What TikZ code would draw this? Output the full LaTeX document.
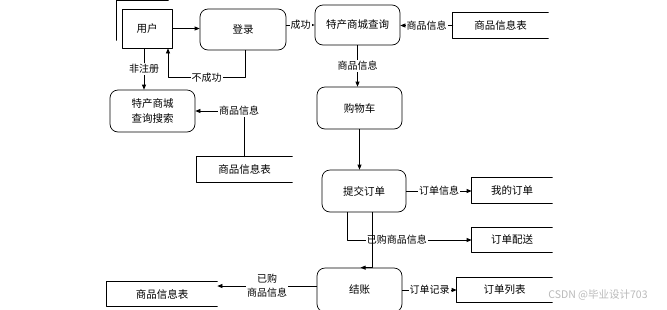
\documentclass[tikz,border=0pt]{standalone}
\usepackage{fontspec}
\setmainfont{Noto Sans CJK SC}
\usetikzlibrary{arrows.meta}
\usetikzlibrary{calc}

\begin{document}
\begin{tikzpicture}[x=1pt, y=-1pt, line cap=round, line join=round, line width=0.7pt,
	every node/.style={font=\fontsize{10.5}{15}\selectfont},
	proc/.style={draw, rounded corners=8pt, minimum width=85pt, minimum height=42pt, inner sep=0pt},
	ent/.style={draw, minimum width=50pt, minimum height=39pt, inner sep=0pt},
	store/.style={minimum width=#1, minimum height=25pt, inner sep=0pt},
	store/.default=95pt,
	flow/.style={-{Triangle[length=5pt,width=4pt]}},
	lbl/.style={fill=white, inner sep=1pt, font=\fontsize{10}{14}\selectfont}]
	
	\useasboundingbox (0,0) rectangle (667,309);
	
	% External entity and processes
	\node[ent] (user) at (147,28.5) {用户};
	\node[proc, minimum width=86pt, minimum height=41pt] (login) at (243,29.5) {登录};
	\node[proc, minimum height=40pt] (query) at (357.5,25) {特产商城查询};
	\node[proc, align=center] (search) at (152.5,111) {特产商城\\查询搜索};
	\node[proc] (cart) at (359.5,108) {购物车};
	\node[proc, minimum width=84pt] (submit) at (364,191) {提交订单};
	\node[proc, minimum height=44pt] (pay) at (359.5,290) {结账};
	
	% Data stores
	\node[store] (tbl1) at (500.5,25.5) {商品信息表};
	\node[store] (tbl2) at (244.5,169.5) {商品信息表};
	\node[store=80pt] (myorder) at (512,190.5) {我的订单};
	\node[store=80pt, minimum height=24pt] (deliver) at (512,240) {订单配送};
	\node[store, minimum height=24pt] (orders) at (504.5,290) {订单列表};
	\node[store=110pt, minimum height=24pt] (tbl3) at (162,294) {商品信息表};
	\foreach \s in {tbl1,tbl2,tbl3,myorder,deliver,orders}
		\draw (\s.north east) -- (\s.north west) -- (\s.south west) -- (\s.south east);
	
	% Shadow corner of the entity
	\draw ($(user.south west)+(-5,-8)$) |- ($(user.north east)+(-4,-8)$);
	
	% Flows
	\draw[flow] (user.east) -- (user.east -| login.west);
	\draw[flow] (login.east |- query.west) -- node[lbl] {成功} (query.west);
	\coordinate (fail) at ($(login.south)+(2,27)$);
	\draw[flow] ([xshift=2pt]login.south) -- (fail) -| node[lbl, pos=0.25] {不成功} ([xshift=21pt]user.south);
	\draw[flow] ([xshift=-3pt]user.south) -- node[lbl] {非注册} ([xshift=-3pt]user.south |- search.north);
	\draw[flow] (tbl1.west) -- node[lbl] {商品信息} (tbl1.west -| query.east);
	\draw[flow] (query.south) -- node[lbl] {商品信息} (query.south |- cart.north);
	\draw[flow] ([xshift=-0.5pt]tbl2.north) |- node[lbl, pos=0.5, xshift=-5pt] {商品信息} (search.east);
	\draw[flow] (cart.south) -- (cart.south |- submit.north);
	\draw[flow] (submit.east) -- node[lbl] {订单信息} (submit.east -| myorder.west);
	\draw[flow] ([xshift=-17pt]submit.south) |- node[lbl, pos=0.7] {已购商品信息} (deliver.west);
	\draw[flow] ([xshift=8pt]submit.south) |- ([xshift=1pt]pay.north);
	\draw[flow] (pay.east) -- node[lbl] {订单记录} (pay.east -| orders.west);
	\draw[flow] ([yshift=4pt]pay.west) -- node[lbl, align=center] {已购\\商品信息} ([yshift=4pt]pay.west -| tbl3.east);
	
	% Watermark
	\node[text=gray!55, font=\fontsize{10.5}{12}\selectfont] (mark) at (598,295) {CSDN @毕业设计703};
	
\end{tikzpicture}
\end{document}
